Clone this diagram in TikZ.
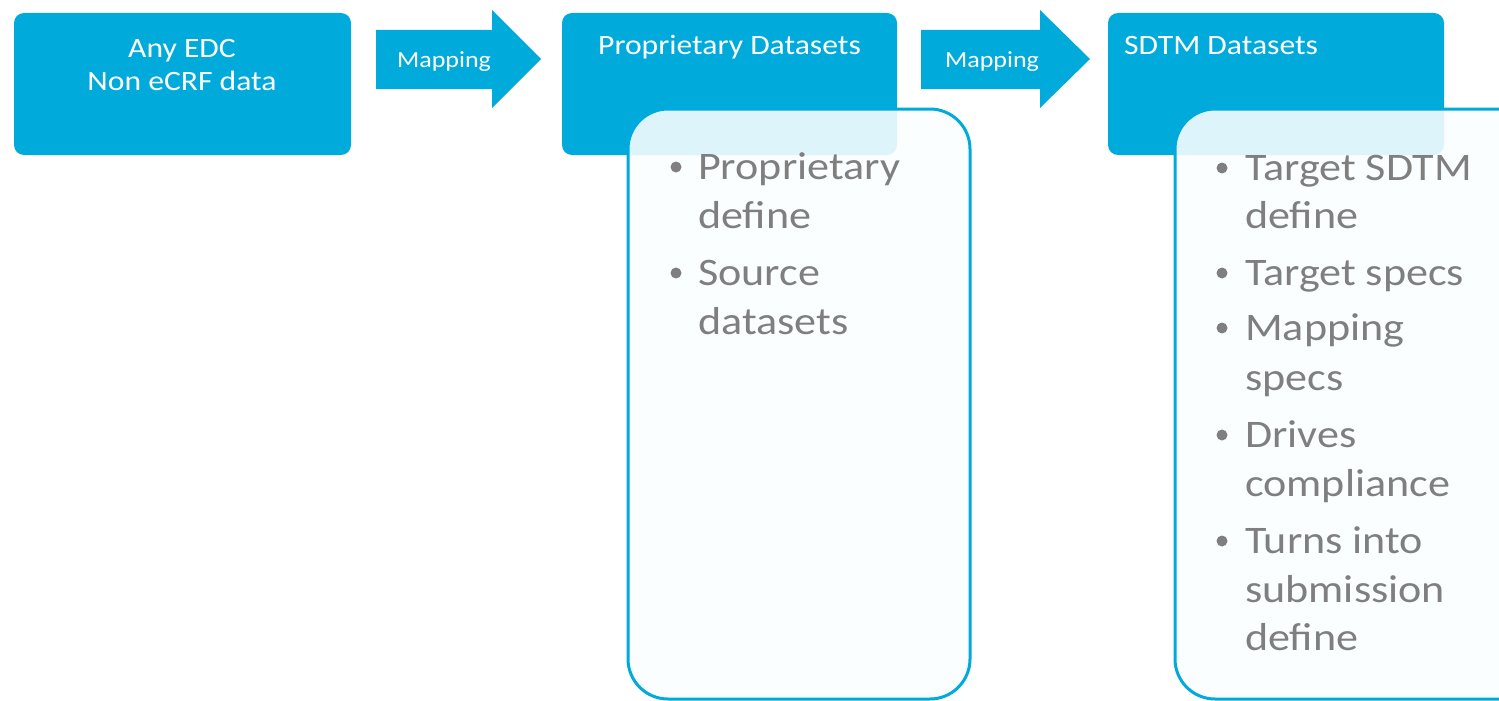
\documentclass[tikz,border=0pt]{standalone}
\usepackage{fontspec}
\setmainfont{Carlito}[FakeStretch=1.13]
\usetikzlibrary{shapes.arrows}
\definecolor{sblue}{HTML}{00AADB}
\definecolor{tgray}{HTML}{7F7F7F}
\definecolor{pale}{HTML}{FAFEFF}
\tikzset{
  bluebox/.style={fill=sblue, rounded corners=10pt},
  listbox/.style={draw=sblue, line width=3pt, fill=pale, fill opacity=0.89, rounded corners=40pt},
  headtxt/.style={text=white, font=\fontsize{28}{33}\selectfont, inner sep=0pt},
  maptxt/.style={text=white, font=\fontsize{23}{27}\selectfont, inner sep=0pt},
  itemtxt/.style={text=tgray, font=\fontsize{39}{47}\selectfont, inner sep=0pt, anchor=base west},
  dot/.style={circle, fill=tgray, inner sep=0pt, minimum size=11pt}
}
\begin{document}
\begin{tikzpicture}[x=1pt,y=-1pt]
\useasboundingbox (0,0) rectangle (1499,701);
\clip (0,0) rectangle (1499,701);
% blue boxes
\fill[bluebox] (14,13) rectangle (351,155);
\fill[bluebox] (562,13) rectangle (897,155);
\fill[bluebox] (1108,13) rectangle (1444,155);
% arrows
\fill[sblue] (376,30) -- (492,30) -- (492,10) -- (541,59) -- (492,108) -- (492,89) -- (376,89) -- cycle;
\fill[sblue] (921,30) -- (1040,30) -- (1040,10) -- (1090,59) -- (1040,108) -- (1040,89) -- (921,89) -- cycle;
% headings
\node[headtxt, anchor=base] (h1a) at (182,58) {Any EDC};
\node[headtxt, anchor=base] (h1b) at (182,90) {Non eCRF data};
\node[headtxt, anchor=base] (h2) at (729.5,55) {Proprietary Datasets};
\node[headtxt, anchor=base west] (h3) at (1124,55) {SDTM Datasets};
\node[maptxt, anchor=base] (m1) at (444,67) {Mapping};
\node[maptxt, anchor=base] (m2) at (992,67) {Mapping};
% list boxes
\path[listbox] (628,109) rectangle (970,699);
\path[listbox] (1175,109) rectangle (1540,699);
% list 1
\node[dot] (d1) at (676,167) {};
\node[itemtxt] (p1) at (698,179) {Proprietary};
\node[itemtxt] (p2) at (698,228) {define};
\node[dot] (d2) at (676,273) {};
\node[itemtxt] (p3) at (698,285) {Source};
\node[itemtxt] (p4) at (698,334) {datasets};
% list 2
\node[dot] (e1) at (1222,168) {};
\node[itemtxt] (s1) at (1245,180) {Target SDTM};
\node[itemtxt] (s2) at (1245,228) {define};
\node[dot] (e2) at (1222,273) {};
\node[itemtxt] (s3) at (1245,285) {Target specs};
\node[dot] (e3) at (1222,328) {};
\node[itemtxt] (s4) at (1245,340) {Mapping};
\node[itemtxt] (s5) at (1245,390) {specs};
\node[dot] (e4) at (1222,435) {};
\node[itemtxt] (s6) at (1245,447) {Drives};
\node[itemtxt] (s7) at (1245,496) {compliance};
\node[dot] (e5) at (1222,541) {};
\node[itemtxt] (s8) at (1245,553) {Turns into};
\node[itemtxt] (s9) at (1245,602) {submission};
\node[itemtxt] (s10) at (1245,650) {define};
\end{tikzpicture}
\end{document}
